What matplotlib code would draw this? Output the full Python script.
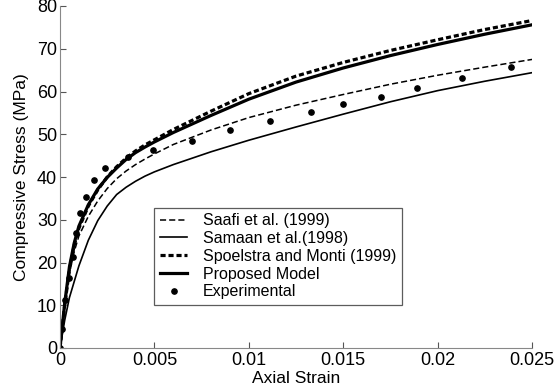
import numpy as np
import matplotlib
matplotlib.use("Agg")
import matplotlib.pyplot as plt

plt.rcParams['font.family'] = ['Liberation Sans', 'DejaVu Sans']

# strain grid used for the model curves
strain = [0, 0.00025, 0.0005, 0.00075, 0.001, 0.0015, 0.002, 0.0025, 0.003,
          0.0035, 0.004, 0.0045, 0.005, 0.006, 0.008, 0.01, 0.0125, 0.015,
          0.0175, 0.02, 0.0225, 0.025]

saafi = [0, 9.5, 17.5, 22.5, 26.2, 30.8, 34.4, 37.3, 39.6,
         41.4, 42.9, 44.2, 45.4, 47.6, 51.0, 53.9, 56.8, 59.3,
         61.7, 63.8, 65.7, 67.5]
samaan = [0, 6.5, 11.8, 15.5, 19.2, 25.2, 29.8, 33.2, 35.9,
          37.6, 39.0, 40.2, 41.2, 42.9, 45.9, 48.6, 51.7, 54.7,
          57.6, 60.2, 62.4, 64.4]
spoelstra = [0, 10.0, 18.3, 24.0, 28.0, 33.2, 37.0, 40.0, 42.4,
             44.4, 46.1, 47.5, 48.7, 51.1, 55.4, 59.5, 63.6, 66.8,
             69.6, 72.1, 74.5, 76.6]
proposed = [0, 10.5, 19.0, 24.5, 28.5, 33.5, 37.2, 39.9, 42.1,
            44.1, 45.7, 47.0, 48.2, 50.4, 54.4, 58.2, 62.2, 65.5,
            68.4, 71.0, 73.4, 75.6]

# experimental points
exp_strain = [0, 0.00009, 0.00028, 0.0005, 0.00067, 0.00085, 0.00106, 0.00138,
              0.00182, 0.0024, 0.0036, 0.0049, 0.0070, 0.0090, 0.0111,
              0.0133, 0.0150, 0.0170, 0.0189, 0.0213, 0.0239]
exp_stress = [0, 4.4, 11.2, 16.4, 21.4, 26.8, 31.5, 35.4,
              39.2, 42.0, 44.7, 46.3, 48.5, 51.1, 53.1,
              55.1, 57.0, 58.7, 60.9, 63.2, 65.8]

fig = plt.figure(figsize=(5.54, 3.86), dpi=100)
ax = fig.add_axes([60/554, 38/386, 472/554, 342/386])

ax.plot(strain, saafi, color='black', lw=1.1, dashes=(4, 2),
        label='Saafi et al. (1999)')
ax.plot(strain, samaan, color='black', lw=1.2,
        label='Samaan et al.(1998)')
ax.plot(strain, spoelstra, color='black', lw=2.3, dashes=(1.6, 0.9),
        label='Spoelstra and Monti (1999)')
ax.plot(strain, proposed, color='black', lw=2.3,
        label='Proposed Model')
ax.plot(exp_strain, exp_stress, 'o', color='black', ms=3.8, ls='none',
        label='Experimental')

ax.set_xlim(0, 0.025)
ax.set_ylim(0, 80)
ax.set_xticks([0, 0.005, 0.01, 0.015, 0.02, 0.025])
ax.set_xticklabels(['0', '0.005', '0.01', '0.015', '0.02', '0.025'])
ax.set_yticks(range(0, 81, 10))

for s in ['top', 'right']:
    ax.spines[s].set_visible(False)
for s in ['left', 'bottom']:
    ax.spines[s].set_color('#888888')
    ax.spines[s].set_linewidth(0.8)
ax.tick_params(direction='in', length=4, width=0.8, color='#555555',
               labelsize=13, pad=2)
ax.tick_params(axis='x', pad=3)

ax.set_xlabel('Axial Strain', fontsize=12.5, labelpad=1)
ax.set_ylabel('Compressive Stress (MPa)', fontsize=12.5, labelpad=6)

leg = ax.legend(loc='upper left', bbox_to_anchor=(0.2, 0.41), fontsize=11.5,
                frameon=True, fancybox=False, handlelength=1.7,
                borderpad=0.35, labelspacing=0.17, handletextpad=1.0,
                borderaxespad=0)
leg.get_frame().set_edgecolor('#333333')
leg.get_frame().set_linewidth(0.9)

fig.savefig('out.png', dpi=100)
